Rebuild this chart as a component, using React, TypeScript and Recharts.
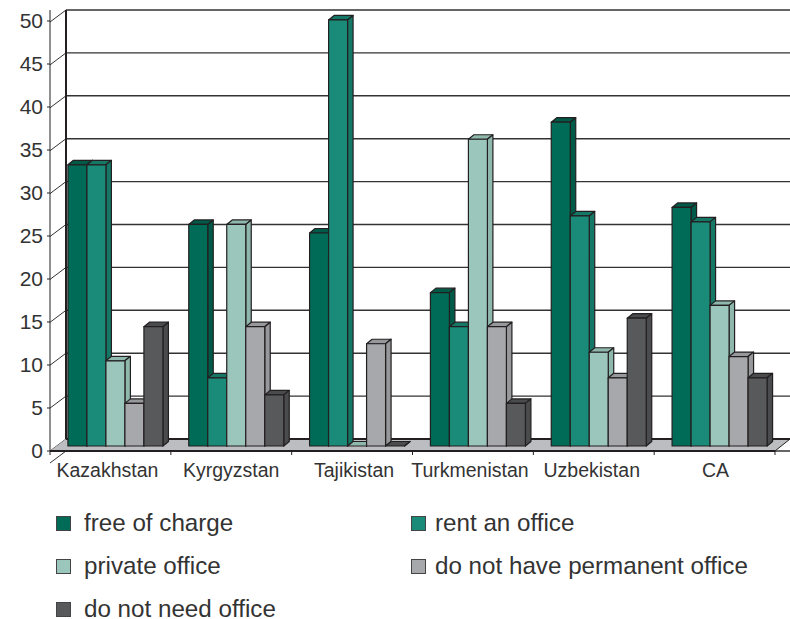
import { BarChart, Bar, XAxis, YAxis, CartesianGrid, Legend } from "recharts";

const countries = ["Kazakhstan", "Kyrgyzstan", "Tajikistan", "Turkmenistan", "Uzbekistan", "CA"];
const freeOfCharge = [33, 26, 25, 18, 38, 28];
const rentOffice = [33, 8, 50, 14, 27, 26.3];
const privateOffice = [10, 26, 0, 36, 11, 16.5];
const noPermanent = [5, 14, 12, 14, 8, 10.5];
const noNeed = [14, 6, 0, 5, 15, 8];
const yTicks = [0, 5, 10, 15, 20, 25, 30, 35, 40, 45, 50];

const data = countries.map((name, i) => ({
  name,
  free: freeOfCharge[i],
  rent: rentOffice[i],
  priv: privateOffice[i],
  none: noPermanent[i],
  noneed: noNeed[i],
}));

const series = [
  { key: "free", label: "free of charge", fill: "#006b56", side: "#005a48" },
  { key: "rent", label: "rent an office", fill: "#1a8b78", side: "#157866" },
  { key: "priv", label: "private office", fill: "#9bc6bb", side: "#8fb8ad" },
  { key: "none", label: "do not have permanent office", fill: "#a7a8ab", side: "#97989b" },
  { key: "noneed", label: "do not need office", fill: "#58595b", side: "#4a4b4d" },
];

const INK = "#231f20";
const BAND = 120.8;
// the labels in the original sit a little off centre
const labelNudge = [-3, 0, 2, -3, -2, 1];

// fake 3d column: front face, top face, side face
function Bar3D(props: any) {
  const { x, y, width, height, fill, side } = props;
  const dx = 5.5;
  const dy = 4.5;
  const l = x + 4.5;
  const r = l + width;
  const b = y + height;
  return (
    <g stroke={INK} strokeWidth={1.2} strokeLinejoin="round">
      <polygon points={`${l},${y} ${l + dx},${y - dy} ${r + dx},${y - dy} ${r},${y}`} fill={side} />
      <polygon points={`${r},${y} ${r + dx},${y - dy} ${r + dx},${b - dy} ${r},${b}`} fill={side} />
      <rect x={l} y={y} width={width} height={height} fill={fill} />
    </g>
  );
}

function Wall() {
  return (
    <g>
      <polygon points="50,451 66,439 790,439 775,451" fill="#bcbdc0" />
      <line x1={66} y1={10} x2={66} y2={439} stroke={INK} strokeWidth={2} />
      <line x1={66} y1={439} x2={790} y2={439} stroke={INK} strokeWidth={2} />
      <line x1={790} y1={439} x2={775} y2={451} stroke={INK} strokeWidth={1} />
    </g>
  );
}

function GridLine(props: any) {
  const { x1, x2, y1 } = props;
  return (
    <g stroke="#333" strokeWidth={1.4}>
      <line x1={x1 + 16} y1={y1} x2={x2 + 15} y2={y1} />
      <line x1={x1} y1={y1 + 12} x2={x1 + 16} y2={y1} strokeWidth={1} />
    </g>
  );
}

function CountryTick(props: any) {
  const { x, y, payload, index } = props;
  const last = index === countries.length - 1;
  return (
    <g>
      <line x1={x - BAND / 2} y1={y - 8} x2={x - BAND / 2} y2={y - 4} stroke={INK} />
      {last && <line x1={x + BAND / 2} y1={y - 8} x2={x + BAND / 2} y2={y - 4} stroke={INK} />}
      <text x={x + labelNudge[index]} y={y + 18} textAnchor="middle" fontSize={19.5} fill="#333">
        {payload.value}
      </text>
    </g>
  );
}

function LegendBox() {
  return (
    <div style={{ display: "grid", gridTemplateColumns: "355px 1fr", rowGap: 17, paddingLeft: 56, marginTop: 2 }}>
      {series.map((s, i) => (
        <div key={s.key} style={{ display: "flex", alignItems: "center", height: 20, marginBottom: 6 }}>
          <span
            style={{
              width: 15,
              height: 15,
              background: s.fill,
              border: "1px solid #444",
              marginRight: i % 2 ? 9 : 13,
              boxSizing: "border-box",
            }}
          />
          <span style={{ fontSize: 24.2, lineHeight: 0.8, color: "#333", whiteSpace: "nowrap" }}>{s.label}</span>
        </div>
      ))}
    </div>
  );
}

export default function App() {
  return (
    <div style={{ position: "absolute", left: 0, top: 0, width: 790, height: 619, background: "#fff", fontFamily: "'Liberation Sans', Arial, sans-serif" }}>
      <BarChart
        width={790}
        height={619}
        data={data}
        margin={{ top: 10, right: 15, bottom: 138, left: 0 }}
        barCategoryGap="11.1%"
        barGap={0}
      >
        <Wall />
        <XAxis
          dataKey="name"
          height={30}
          interval={0}
          tick={<CountryTick />}
          tickLine={false}
          axisLine={{ stroke: INK, strokeWidth: 2 }}
        />
        <YAxis
          yAxisId="main"
          width={50}
          domain={[0, 51.28]}
          ticks={yTicks}
          allowDataOverflow
          interval={0}
          tickSize={3}
          tickMargin={4}
          tick={{ fontSize: 21, fill: "#333" }}
          stroke={INK}
        />
        <YAxis yAxisId="back" hide width={0} domain={[-1.399, 50]} ticks={yTicks} allowDataOverflow />
        <YAxis yAxisId="bars" hide width={0} domain={[-0.587, 51.17]} allowDataOverflow />
        <CartesianGrid yAxisId="back" vertical={false} horizontal={<GridLine />} />
        {series.map((s) => (
          <Bar
            key={s.key}
            yAxisId="bars"
            dataKey={s.key}
            name={s.label}
            fill={s.fill}
            isAnimationActive={false}
            shape={(p: any) => <Bar3D {...p} fill={s.fill} side={s.side} />}
          />
        ))}
        <Legend
          layout="horizontal"
          verticalAlign="middle"
          align="center"
          wrapperStyle={{ top: 511, left: 0, width: 790 }}
          content={<LegendBox />}
        />
      </BarChart>
    </div>
  );
}
